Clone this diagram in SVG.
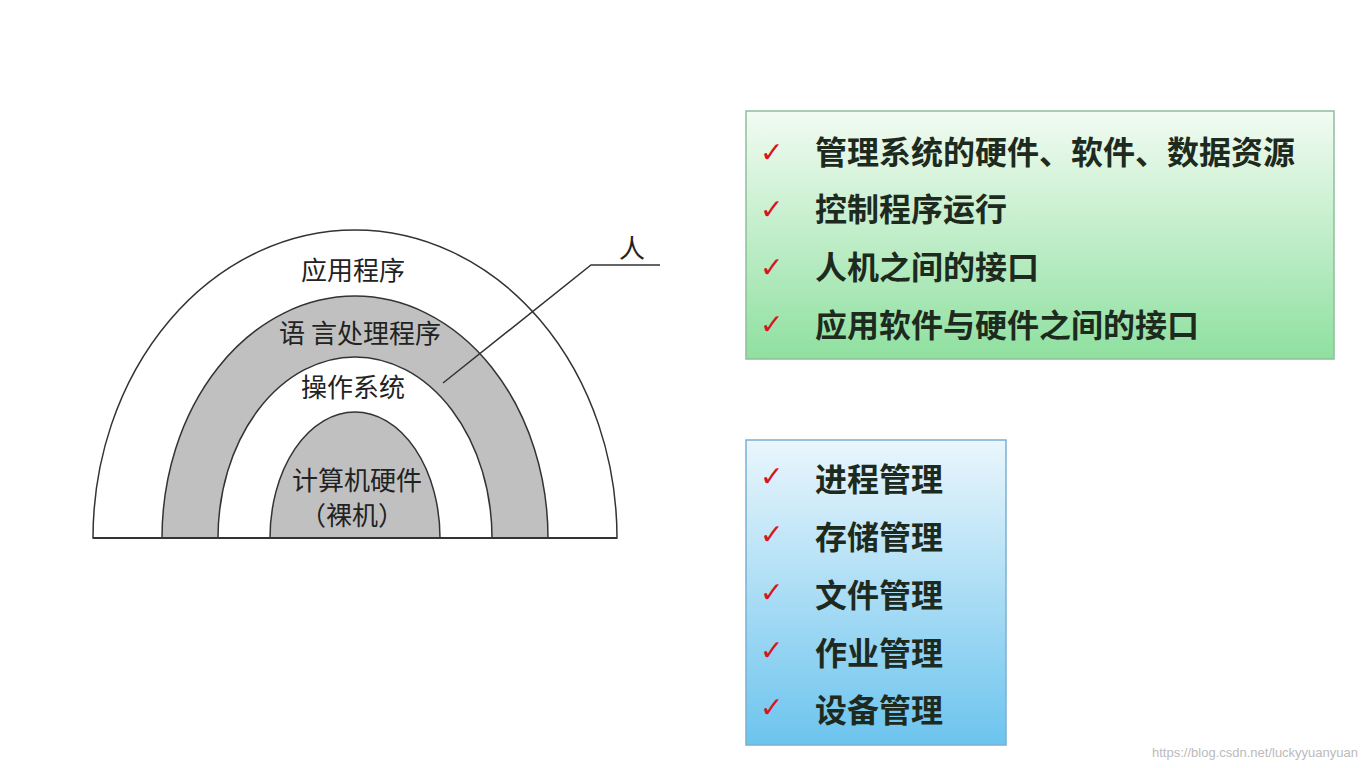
<svg xmlns="http://www.w3.org/2000/svg" width="1367" height="768" viewBox="0 0 1367 768">
<style>
.lbl{font-family:"Noto Sans CJK SC",sans-serif;font-size:26px;fill:#222;text-anchor:middle}
.item{font-family:"Noto Sans CJK SC",sans-serif;font-size:32px;font-weight:bold;fill:#1e2a1e}
.chk{font-family:"DejaVu Sans",sans-serif;font-size:28px;fill:#d8141e}
.ring{stroke:#333;stroke-width:1.5}
</style>
<defs>
<linearGradient id="g1" x1="0" y1="0" x2="0" y2="1"><stop offset="0" stop-color="#f2fbf2"/><stop offset="1" stop-color="#8fe0a0"/></linearGradient>
<linearGradient id="g2" x1="0" y1="0" x2="0" y2="1"><stop offset="0" stop-color="#eaf6fc"/><stop offset="1" stop-color="#6cc4ee"/></linearGradient>
</defs>
<rect width="1367" height="768" fill="#fff"/>
<g id="layers">
<path class="ring" d="M93,538 A262,308 0 0 1 617,538 Z" fill="#fff"/>
<path class="ring" d="M162,538 A193,242 0 0 1 548,538 Z" fill="#c0c0c0"/>
<path class="ring" d="M218,538 A137,181 0 0 1 492,538 Z" fill="#fff"/>
<path class="ring" d="M270,538 A85,126 0 0 1 440,538 Z" fill="#c0c0c0"/>
<line x1="93" y1="538" x2="617" y2="538" stroke="#333" stroke-width="2"/>
</g>
<g id="connectors"><polyline points="443,383 591,265 660,265" fill="none" stroke="#333" stroke-width="1.5"/></g>
<g id="labels">
<text class="lbl" x="353" y="280">应用程序</text>
<text class="lbl" x="360" y="343">语 言处理程序</text>
<text class="lbl" x="353" y="397">操作系统</text>
<text class="lbl" x="357" y="490">计算机硬件</text>
<text class="lbl" x="352" y="525">（裸机）</text>
<text class="lbl" x="632" y="258">人</text>
</g>
<g id="box1">
<rect x="746" y="111" width="588" height="248" fill="url(#g1)" stroke="#8fbf9a" stroke-width="1.5"/>
<text class="chk" x="760" y="162">✓</text><text class="item" x="815" y="164">管理系统的硬件、软件、数据资源</text>
<text class="chk" x="760" y="219">✓</text><text class="item" x="815" y="221">控制程序运行</text>
<text class="chk" x="760" y="277">✓</text><text class="item" x="815" y="279">人机之间的接口</text>
<text class="chk" x="760" y="334">✓</text><text class="item" x="815" y="337">应用软件与硬件之间的接口</text>
</g>
<g id="box2">
<rect x="746" y="440" width="260" height="305" fill="url(#g2)" stroke="#7bb0cf" stroke-width="1.5"/>
<text class="chk" x="760" y="486">✓</text><text class="item" x="815" y="491">进程管理</text>
<text class="chk" x="760" y="544">✓</text><text class="item" x="815" y="549">存储管理</text>
<text class="chk" x="760" y="602">✓</text><text class="item" x="815" y="607">文件管理</text>
<text class="chk" x="760" y="660">✓</text><text class="item" x="815" y="665">作业管理</text>
<text class="chk" x="760" y="717">✓</text><text class="item" x="815" y="722">设备管理</text>
</g>
<text x="1358" y="757" font-family="Liberation Sans,sans-serif" font-size="13" fill="#bbb" text-anchor="end">https://blog.csdn.net/luckyyuanyuan</text>
</svg>
